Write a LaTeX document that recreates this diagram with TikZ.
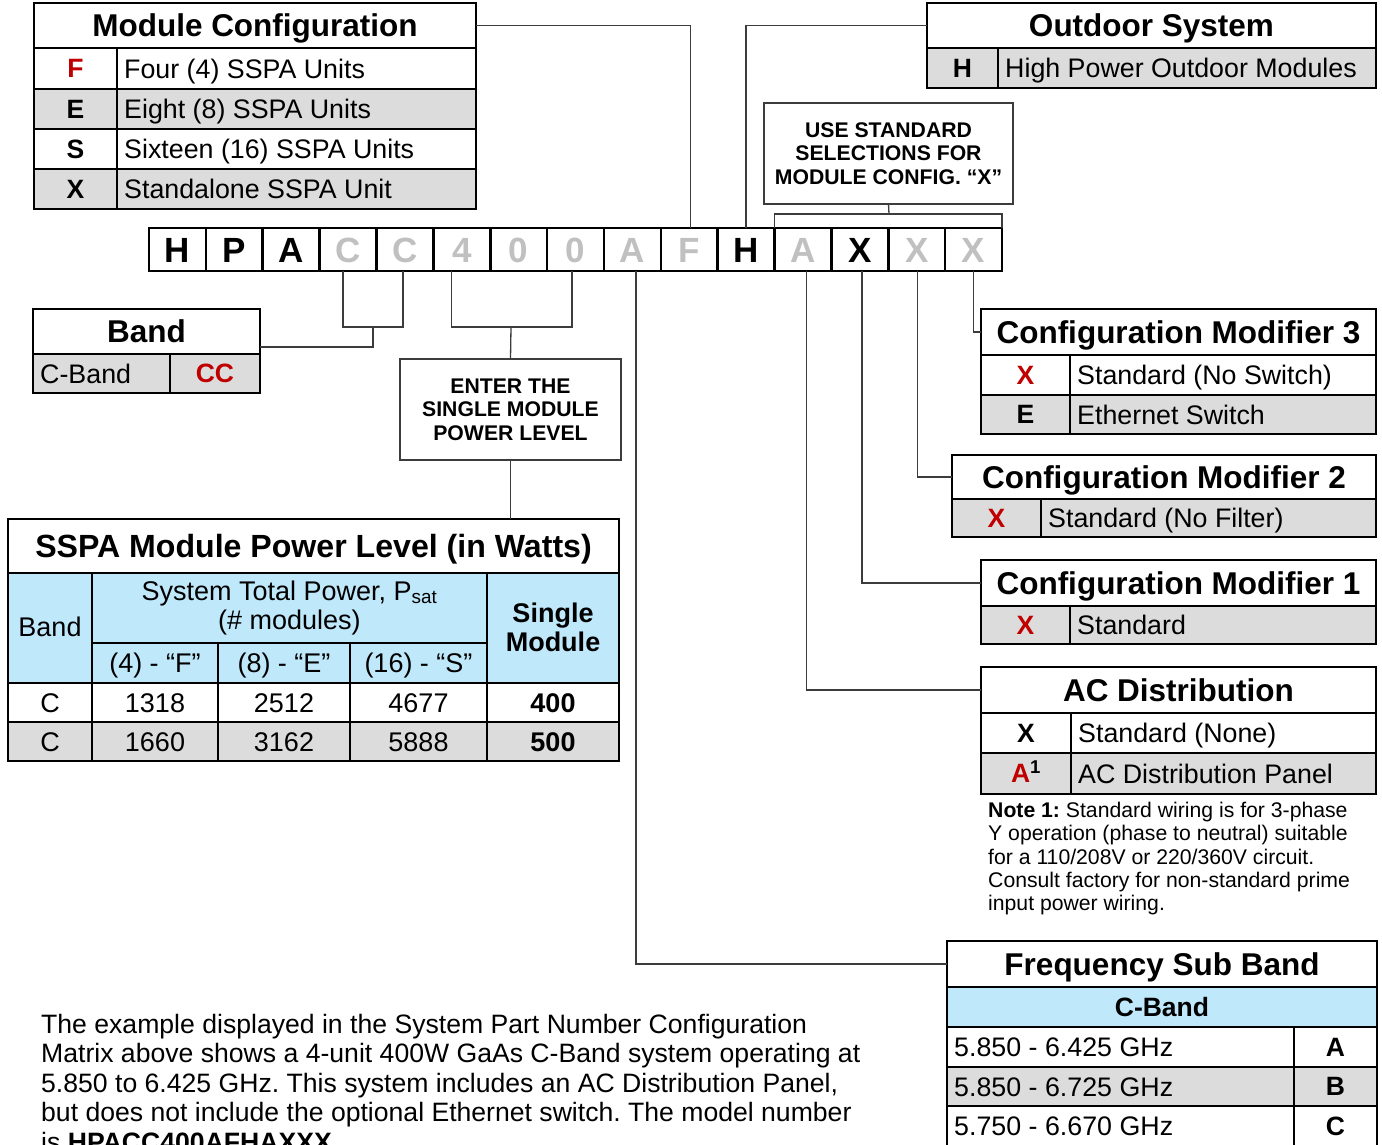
\documentclass[tikz,border=0pt]{standalone}
\usepackage{fontspec}
\setmainfont{Liberation Sans}
\frenchspacing
\definecolor{cgray}{RGB}{220,220,220}
\definecolor{cblue}{RGB}{192,232,251}
\definecolor{cred}{RGB}{192,0,0}
\definecolor{clg}{RGB}{192,192,192}
\definecolor{cline}{RGB}{60,60,60}
\newcommand\tcell[6]{\node[tb,fill=#6,minimum width={(#4)-(#2)},minimum height={(#5)-(#3)}] (#1) at ({((#2)+(#4))/2},{((#3)+(#5))/2}) {};}
\newcommand\ctxt[4]{\node[anchor=base,inner sep=0pt,font=\fontsize{#2}{#2}\selectfont,#3] (#1t) at ([yshift={-0.358*#2}]#1.center) {#4};}
\newcommand\ltxt[4]{\node[anchor=base west,inner sep=0pt,font=\fontsize{#2}{#2}\selectfont] (#1t) at ([xshift=#3,yshift={-0.358*#2}]#1.west) {#4};}
\begin{document}
\begin{tikzpicture}[x=1pt,y=-1pt,
  tb/.style={draw=black,line width=2.4pt,inner sep=0pt,outer sep=0pt},
  pbox/.style={draw=black,line width=2.6pt,inner sep=0pt,outer sep=0pt,minimum width=56.87pt,minimum height=43pt},
  conn/.style={draw=cline,line width=1.3pt},
  notebox/.style={draw=cline,line width=1.4pt,inner sep=0pt,outer sep=0pt,align=center,font=\fontsize{21.2}{23.5}\selectfont\bfseries}]
\useasboundingbox (0,0) rectangle (1382,1145);
\fill[white] (0,0) rectangle (1382,1145);

% ---------- Module Configuration ----------
\tcell{mct}{34}{3}{476}{48}{white}\ctxt{mct}{31.5}{}{\bfseries Module Configuration}
\tcell{mc1a}{34}{48}{117}{89}{white}\ctxt{mc1a}{26.5}{text=cred}{\bfseries F}
\tcell{mc1b}{117}{48}{476}{89}{white}\ltxt{mc1b}{26.8}{7}{Four (4) SSPA Units}
\tcell{mc2a}{34}{89}{117}{129}{cgray}\ctxt{mc2a}{26.5}{}{\bfseries E}
\tcell{mc2b}{117}{89}{476}{129}{cgray}\ltxt{mc2b}{26.8}{7}{Eight (8) SSPA Units}
\tcell{mc3a}{34}{129}{117}{169}{white}\ctxt{mc3a}{26.5}{}{\bfseries S}
\tcell{mc3b}{117}{129}{476}{169}{white}\ltxt{mc3b}{26.8}{7}{Sixteen (16) SSPA Units}
\tcell{mc4a}{34}{169}{117}{209}{cgray}\ctxt{mc4a}{26.5}{}{\bfseries X}
\tcell{mc4b}{117}{169}{476}{209}{cgray}\ltxt{mc4b}{26.8}{7}{Standalone SSPA Unit}

% ---------- Outdoor System ----------
\tcell{ost}{927}{3}{1376}{48}{white}\ctxt{ost}{31.5}{}{\bfseries Outdoor System}
\tcell{os1a}{927}{48}{998}{88}{cgray}\ctxt{os1a}{26.5}{}{\bfseries H}
\tcell{os1b}{998}{48}{1376}{88}{cgray}\ltxt{os1b}{26.8}{7}{High Power Outdoor Modules}

% ---------- Part number ----------
\foreach \L/\c [count=\i] in {H/black,P/black,A/black,C/clg,C/clg,4/clg,0/clg,0/clg,A/clg,F/clg,H/black,A/clg,X/black,X/clg,X/clg}{
  \node[pbox] (p\i) at ({149+56.87*(\i-0.5)},249.5) {};
  \node[anchor=base,inner sep=0pt,text=\c,font=\fontsize{35}{35}\selectfont\bfseries] (p\i t) at ([yshift={-0.358*35}]p\i.center) {\L};
}

% ---------- Use standard box ----------
\node[notebox,minimum width=249pt,minimum height=101pt] (ustd) at (888.5,153.5) {USE STANDARD\\SELECTIONS FOR\\MODULE CONFIG. “X”};
\coordinate (ubr) at (889,214);
\draw[conn] (p12.north west) |- (ubr) -| (p15.north east);
\draw[conn] (ustd.south) -- (ubr);

% ---------- Band ----------
\tcell{bandT}{33}{309}{260}{354}{white}\ctxt{bandT}{31.5}{}{\bfseries Band}
\tcell{band1a}{33}{354}{170}{393}{cgray}\ltxt{band1a}{26.8}{7}{C-Band}
\tcell{band1b}{170}{354}{260}{393}{cgray}\ctxt{band1b}{26.5}{text=cred}{\bfseries CC}
\coordinate (bbr) at (373,327);
\coordinate (bj) at (373,347);
\draw[conn] ([xshift=-5]p4.south) |- (bbr);
\draw[conn] ([xshift=-2]p5.south) |- (bbr);
\draw[conn] (bbr) -- (bj) -- (bj -| bandT.east);

% ---------- Enter power box ----------
\node[notebox,minimum width=221pt,minimum height=101pt] (enter) at (510.5,409.5) {ENTER THE\\SINGLE MODULE\\POWER LEVEL};
\coordinate (pbr) at (511,327);
\draw[conn] ([xshift=-10]p6.south) |- (pbr);
\draw[conn] ([xshift=-3.5]p8.south) |- (pbr);
\draw[conn] (pbr) -- (enter.north);

% ---------- SSPA table ----------
\tcell{sspaT}{8}{519}{619}{573}{white}\ctxt{sspaT}{32.1}{}{\bfseries SSPA Module Power Level (in Watts)}
\draw[conn] (enter.south) -- (enter.south |- sspaT.north);
\tcell{hband}{8}{573}{92}{683}{cblue}
\node[anchor=base,inner sep=0pt,font=\fontsize{27}{27}\selectfont] (hbandt) at (50,636) {Band};
\tcell{hsys}{92}{573}{487}{643}{cblue}
\node[anchor=base,inner sep=0pt,font=\fontsize{27}{27}\selectfont] (hsys1) at (289.5,600) {System Total Power, P\textsubscript{sat}};
\node[anchor=base,inner sep=0pt,font=\fontsize{27}{27}\selectfont] (hsys2) at (289.5,629) {(\# modules)};
\tcell{hf}{92}{643}{218}{683}{cblue}\ctxt{hf}{27}{}{(4) - “F”}
\tcell{he}{218}{643}{350}{683}{cblue}\ctxt{he}{27}{}{(8) - “E”}
\tcell{hs}{350}{643}{487}{683}{cblue}\ctxt{hs}{27}{}{(16) - “S”}
\tcell{hsm}{487}{573}{619}{683}{cblue}
\node[anchor=base,inner sep=0pt,font=\fontsize{27}{27}\selectfont\bfseries] (hsm1) at (553,622) {Single};
\node[anchor=base,inner sep=0pt,font=\fontsize{27}{27}\selectfont\bfseries] (hsm2) at (553,651) {Module};
\tcell{r1a}{8}{683}{92}{722}{white}\ctxt{r1a}{27}{}{C}
\tcell{r1b}{92}{683}{218}{722}{white}\ctxt{r1b}{27}{}{1318}
\tcell{r1c}{218}{683}{350}{722}{white}\ctxt{r1c}{27}{}{2512}
\tcell{r1d}{350}{683}{487}{722}{white}\ctxt{r1d}{27}{}{4677}
\tcell{r1e}{487}{683}{619}{722}{white}\ctxt{r1e}{27}{}{\bfseries 400}
\tcell{r2a}{8}{722}{92}{761}{cgray}\ctxt{r2a}{27}{}{C}
\tcell{r2b}{92}{722}{218}{761}{cgray}\ctxt{r2b}{27}{}{1660}
\tcell{r2c}{218}{722}{350}{761}{cgray}\ctxt{r2c}{27}{}{3162}
\tcell{r2d}{350}{722}{487}{761}{cgray}\ctxt{r2d}{27}{}{5888}
\tcell{r2e}{487}{722}{619}{761}{cgray}\ctxt{r2e}{27}{}{\bfseries 500}

% ---------- Configuration Modifier 3 ----------
\tcell{cm3T}{981}{309}{1376}{355}{white}\ctxt{cm3T}{31.5}{}{\bfseries Configuration Modifier 3}
\tcell{cm31a}{981}{355}{1070}{395}{white}\ctxt{cm31a}{26.5}{text=cred}{\bfseries X}
\tcell{cm31b}{1070}{355}{1376}{395}{white}\ltxt{cm31b}{26.8}{7}{Standard (No Switch)}
\tcell{cm32a}{981}{395}{1070}{434}{cgray}\ctxt{cm32a}{26.5}{}{\bfseries E}
\tcell{cm32b}{1070}{395}{1376}{434}{cgray}\ltxt{cm32b}{26.8}{7}{Ethernet Switch}
\draw[conn] (p15.south) |- (cm3T.west);

% ---------- Configuration Modifier 2 ----------
\tcell{cm2T}{952}{455}{1376}{499}{white}\ctxt{cm2T}{31.5}{}{\bfseries Configuration Modifier 2}
\tcell{cm21a}{952}{499}{1041}{537}{cgray}\ctxt{cm21a}{26.5}{text=cred}{\bfseries X}
\tcell{cm21b}{1041}{499}{1376}{537}{cgray}\ltxt{cm21b}{26.8}{7}{Standard (No Filter)}
\draw[conn] ([xshift=1]p14.south) |- (cm2T.west);

% ---------- Configuration Modifier 1 ----------
\tcell{cm1T}{981}{560}{1376}{606}{white}\ctxt{cm1T}{31.5}{}{\bfseries Configuration Modifier 1}
\tcell{cm11a}{981}{606}{1070}{644}{cgray}\ctxt{cm11a}{26.5}{text=cred}{\bfseries X}
\tcell{cm11b}{1070}{606}{1376}{644}{cgray}\ltxt{cm11b}{26.8}{7}{Standard}
\draw[conn] ([xshift=2]p13.south) |- (cm1T.west);

% ---------- AC Distribution ----------
\tcell{acT}{981}{667}{1376}{713}{white}\ctxt{acT}{31.5}{}{\bfseries AC Distribution}
\tcell{ac1a}{981}{713}{1071}{753}{white}\ctxt{ac1a}{26.5}{}{\bfseries X}
\tcell{ac1b}{1071}{713}{1376}{753}{white}\ltxt{ac1b}{26.8}{7}{Standard (None)}
\tcell{ac2a}{981}{753}{1071}{794}{cgray}\ctxt{ac2a}{26.5}{text=cred}{\bfseries A\textsuperscript{\color{black}1}}
\tcell{ac2b}{1071}{753}{1376}{794}{cgray}\ltxt{ac2b}{26.8}{7}{AC Distribution Panel}
\draw[conn] ([xshift=3.5]p12.south) |- (acT.west);

\node[anchor=north west,inner sep=0pt,align=left,font=\fontsize{21.2}{23.3}\selectfont] (note) at (988,802)
 {\textbf{Note 1:} Standard wiring is for 3-phase\\Y operation (phase to neutral) suitable\\for a 110/208V or 220/360V circuit.\\Consult factory for non-standard prime\\input power wiring.};

% ---------- Frequency Sub Band ----------
\tcell{fsT}{947}{941}{1377}{987}{white}\ctxt{fsT}{31.5}{}{\bfseries Frequency Sub Band}
\tcell{fsb}{947}{987}{1377}{1027}{cblue}\ctxt{fsb}{26.5}{}{\bfseries C-Band}
\tcell{fs1a}{947}{1027}{1294}{1067}{white}\ltxt{fs1a}{26.8}{7}{5.850 - 6.425 GHz}
\tcell{fs1b}{1294}{1027}{1377}{1067}{white}\ctxt{fs1b}{26.5}{}{\bfseries A}
\tcell{fs2a}{947}{1067}{1294}{1106}{cgray}\ltxt{fs2a}{26.8}{7}{5.850 - 6.725 GHz}
\tcell{fs2b}{1294}{1067}{1377}{1106}{cgray}\ctxt{fs2b}{26.5}{}{\bfseries B}
\tcell{fs3a}{947}{1106}{1294}{1165}{white}
\node[anchor=base west,inner sep=0pt,font=\fontsize{26.8}{26.8}\selectfont] (fs3at) at (954,1135) {5.750 - 6.670 GHz};
\tcell{fs3b}{1294}{1106}{1377}{1165}{white}
\node[anchor=base,inner sep=0pt,font=\fontsize{26.5}{26.5}\selectfont\bfseries] (fs3bt) at (1335.5,1135) {C};
\draw[conn] ([xshift=3.5]p9.south) |- (fsT.west);

% ---------- Modules connectors at top ----------
\draw[conn] ([xshift=1.5]p10.north) |- (mct.east);
\draw[conn] (p11.north) |- (ost.west);

% ---------- Paragraph ----------
\node[anchor=north west,inner sep=0pt,align=left,font=\fontsize{26.6}{29.5}\selectfont] (para) at (41,1014)
 {The example displayed in the System Part Number Configuration\\Matrix above shows a 4-unit 400W GaAs C-Band system operating at\\5.850 to 6.425 GHz. This system includes an AC Distribution Panel,\\but does not include the optional Ethernet switch. The model number\\is \textbf{HPACC400AFHAXXX}.};
\end{tikzpicture}
\end{document}
